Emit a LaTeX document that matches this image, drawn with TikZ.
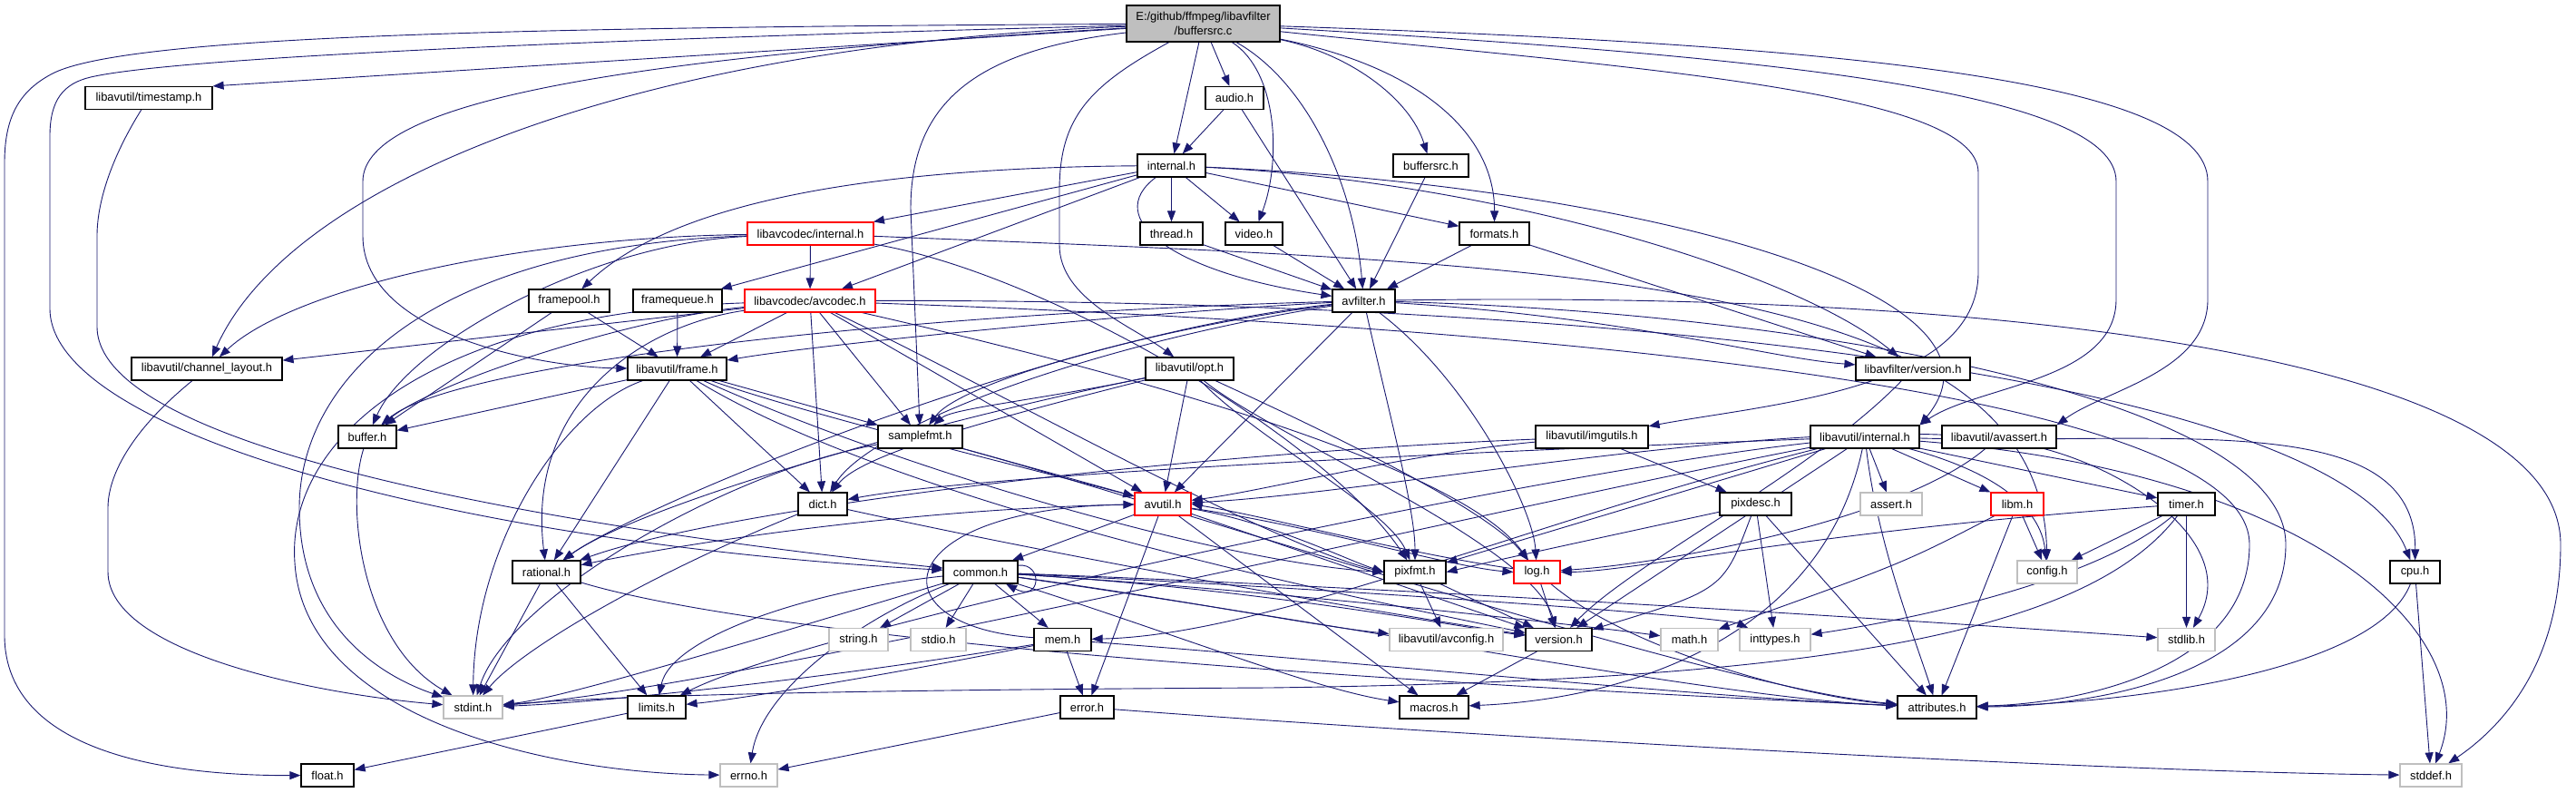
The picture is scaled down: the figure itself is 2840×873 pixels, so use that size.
\documentclass[tikz,border=0pt]{standalone}
\usepackage{fontspec}
\setmainfont{Liberation Sans}
\usetikzlibrary{arrows.meta}
\definecolor{ec}{HTML}{191970}
\definecolor{gb}{HTML}{BFBFBF}
\definecolor{tf}{HTML}{BFBFBF}
\pgfdeclarelayer{bgrect}
\pgfdeclarelayer{edges}
\pgfsetlayers{bgrect,edges,main}
\begin{document}
\begin{tikzpicture}[x=1pt,y=-1pt,
  nd/.style={draw=black, fill=white, line width=1.2pt, minimum height=25pt, inner sep=0pt, font=\fontsize{12.9}{15.5}\selectfont},
  sys/.style={nd, draw=gb},
  trunc/.style={nd, draw=red},
  e/.style={draw=ec, line width=0.9pt, line join=round, -{Triangle[length=12pt,width=9pt]}}]
\begin{pgfonlayer}{bgrect}
\fill[white] (0,0) rectangle (2840,873);
\end{pgfonlayer}
\useasboundingbox (0,0) rectangle (2840,873);
% nodes
\node[nd,fill=tf,minimum width=169pt,minimum height=40pt,align=center] (top) at (1326.5,26) {E:/github/ffmpeg/libavfilter\\/buffersrc.c};
\node[nd,minimum width=140pt] (timestamp) at (164,108) {libavutil/timestamp.h};
\node[nd,minimum width=64pt] (audio) at (1361,108) {audio.h};
\node[nd,minimum width=75pt] (internal) at (1291.5,182.5) {internal.h};
\node[nd,minimum width=83pt] (bsrch) at (1577.5,182.5) {buffersrc.h};
\node[trunc,minimum width=139pt] (lcint) at (893.5,257.5) {libavcodec/internal.h};
\node[nd,minimum width=69pt] (thread) at (1291.5,257.5) {thread.h};
\node[nd,minimum width=63pt] (video) at (1382.5,257.5) {video.h};
\node[nd,minimum width=77pt] (formats) at (1647.5,257.5) {formats.h};
\node[nd,minimum width=89pt] (fpool) at (627.5,331.5) {framepool.h};
\node[nd,minimum width=98pt] (fqueue) at (747,331.5) {framequeue.h};
\node[trunc,minimum width=144pt] (avcodec) at (893,331.5) {libavcodec/avcodec.h};
\node[nd,minimum width=69pt] (avfilter) at (1503.5,331.5) {avfilter.h};
\node[nd,minimum width=166pt] (chl) at (228,406.5) {libavutil/channel\_layout.h};
\node[nd,minimum width=109pt] (frame) at (746.5,406.5) {libavutil/frame.h};
\node[nd,minimum width=97pt] (opt) at (1311.5,406.5) {libavutil/opt.h};
\node[nd,minimum width=126pt] (lfver) at (2109,406.5) {libavfilter/version.h};
\node[nd,minimum width=64pt] (buffer) at (405,481.5) {buffer.h};
\node[nd,minimum width=93pt] (sfmt) at (1014.5,481.5) {samplefmt.h};
\node[nd,minimum width=124pt] (imgu) at (1755,481.5) {libavutil/imgutils.h};
\node[nd,minimum width=120pt] (luint) at (2056,481.5) {libavutil/internal.h};
\node[nd,minimum width=126pt] (avassert) at (2204,481.5) {libavutil/avassert.h};
\node[nd,minimum width=54pt] (dict) at (907,555.5) {dict.h};
\node[trunc,minimum width=62pt] (avutil) at (1282,555.5) {avutil.h};
\node[nd,minimum width=79pt] (pixdesc) at (1935.5,555.5) {pixdesc.h};
\node[sys,minimum width=68pt] (assert) at (2085,555.5) {assert.h};
\node[trunc,minimum width=58pt] (libm) at (2224,555.5) {libm.h};
\node[nd,minimum width=63pt] (timer) at (2410.5,555.5) {timer.h};
\node[nd,minimum width=75pt] (rational) at (602.5,630.5) {rational.h};
\node[nd,minimum width=82pt] (common) at (1081,630.5) {common.h};
\node[nd,minimum width=68pt] (pixfmt) at (1560,630.5) {pixfmt.h};
\node[trunc,minimum width=51pt] (log) at (1694.5,630.5) {log.h};
\node[sys,minimum width=66pt] (config) at (2257,630.5) {config.h};
\node[nd,minimum width=55pt] (cpu) at (2662.5,630.5) {cpu.h};
\node[sys,minimum width=65pt] (string) at (946.5,705) {string.h};
\node[sys,minimum width=61pt] (stdio) at (1034.5,705) {stdio.h};
\node[nd,minimum width=63pt] (mem) at (1171.5,705) {mem.h};
\node[sys,minimum width=125pt] (avconfig) at (1594.5,705) {libavutil/avconfig.h};
\node[nd,minimum width=73pt] (version) at (1718.5,705) {version.h};
\node[sys,minimum width=63pt] (math) at (1862.5,705) {math.h};
\node[sys,minimum width=78pt] (inttypes) at (1957,705) {inttypes.h};
\node[sys,minimum width=63pt] (stdlib) at (2410.5,705) {stdlib.h};
\node[sys,minimum width=65pt] (stdint) at (521.5,779.5) {stdint.h};
\node[nd,minimum width=64pt] (limits) at (724,779.5) {limits.h};
\node[nd,minimum width=59pt] (error) at (1198.5,779.5) {error.h};
\node[nd,minimum width=76pt] (macros) at (1581,779.5) {macros.h};
\node[nd,minimum width=87pt] (attr) at (2135.5,779.5) {attributes.h};
\node[nd,minimum width=58pt] (float) at (361,854.5) {float.h};
\node[sys,minimum width=63pt] (errno) at (825.5,854.5) {errno.h};
\node[sys,minimum width=68pt] (stddef) at (2680,854.5) {stddef.h};
\begin{pgfonlayer}{edges}
% buffersrc.c
\draw[e] (top) .. controls (600,30) and (150,38) .. (60,80) .. controls (20,100) and (5,130) .. (5,180) -- (5,700) .. controls (5,835) and (200,855) .. (float);
\draw[e] (top) .. controls (700,42) and (200,62) .. (100,85) .. controls (70,92) and (55,110) .. (55,150) -- (55,340) .. controls (55,480) and (520,600) .. (common);
\draw[e] (top) -- (timestamp.north east);
\draw[e] (top) .. controls (700,50) and (320,200) .. (chl);
\draw[e] (top) .. controls (700,62) and (400,110) .. (400,200) -- (400,260) .. controls (400,370) and (600,405) .. (frame);
\draw[e] (top) .. controls (1080,55) and (1004,110) .. (1004,230) -- (sfmt);
\draw[e] (top) .. controls (1200,95) and (1168,130) .. (1168,210) -- (1168,270) .. controls (1168,330) and (1250,360) .. (opt);
\draw[e] (top) -- (internal);
\draw[e] (top) -- (audio);
\draw[e] (top) .. controls (1410,80) and (1412,180) .. (video);
\draw[e] (top) .. controls (1440,90) and (1492,200) .. (avfilter);
\draw[e] (top) .. controls (1490,60) and (1555,110) .. (bsrch);
\draw[e] (top) .. controls (1570,75) and (1648,150) .. (formats);
\draw[e] (top) .. controls (1800,75) and (2181,100) .. (2181,190) -- (2181,300) .. controls (2181,430) and (1950,445) .. (imgu);
\draw[e] (top) .. controls (1950,62) and (2333,100) .. (2333,200) -- (2333,330) .. controls (2333,420) and (2180,425) .. (luint.north east);
\draw[e] (top) .. controls (2050,50) and (2434,90) .. (2434,200) -- (2434,330) .. controls (2434,410) and (2320,430) .. (avassert.north east);
% timestamp, audio
\draw[e] (timestamp) .. controls (125,170) and (107,220) .. (107,260) -- (107,360) .. controls (107,500) and (650,585) .. (common);
\draw[e] (audio) -- (internal);
\draw[e] (audio) -- (avfilter);
% internal.h
\draw[e] (internal) -- (lcint);
\draw[e] (internal) -- (fqueue);
\draw[e] (internal) -- (avcodec);
\draw[e] (internal) .. controls (950,185) and (740,225) .. (fpool);
\draw[e] (internal) -- (thread);
\draw[e] (internal) -- (video);
\draw[e] (internal) .. controls (1215,240) and (1290,300) .. (avfilter);
\draw[e] (internal) -- (formats);
\draw[e] (internal) .. controls (1650,200) and (1980,300) .. (lfver);
\draw[e] (internal) .. controls (1800,205) and (2240,320) .. (luint.north east);
\draw[e] (bsrch) -- (avfilter);
% libavcodec/internal.h
\draw[e] (lcint) -- (avcodec);
\draw[e] (lcint) .. controls (650,268) and (450,380) .. (buffer);
\draw[e] (lcint) .. controls (560,262) and (320,320) .. (chl);
\draw[e] (lcint) .. controls (470,272) and (330,420) .. (330,560) .. controls (330,690) and (420,745) .. (stdint);
\draw[e] (lcint) .. controls (1150,300) and (1460,480) .. (pixfmt);
\draw[e] (lcint) .. controls (1700,290) and (2250,300) .. (config);
\draw[e] (thread) -- (avfilter);
\draw[e] (video) -- (avfilter);
\draw[e] (formats) -- (avfilter);
\draw[e] (formats) -- (lfver);
\draw[e] (fpool) -- (buffer);
\draw[e] (fpool) -- (frame);
\draw[e] (fqueue) -- (frame);
% avcodec.h
\draw[e] (avcodec) .. controls (480,345) and (315,480) .. (325,620) .. controls (335,790) and (600,852) .. (errno);
\draw[e] (avcodec) -- (sfmt);
\draw[e] (avcodec) .. controls (1700,360) and (2480,430) .. (2480,600) .. controls (2480,735) and (2300,775) .. (attr);
\draw[e] (avcodec) -- (avutil);
\draw[e] (avcodec) .. controls (700,350) and (480,420) .. (buffer);
\draw[e] (avcodec) -- (chl);
\draw[e] (avcodec) -- (dict);
\draw[e] (avcodec) -- (frame);
\draw[e] (avcodec) .. controls (1150,390) and (1600,500) .. (log);
\draw[e] (avcodec) .. controls (1100,430) and (1400,600) .. (pixfmt.west);
\draw[e] (avcodec) .. controls (700,360) and (580,450) .. (rational);
\draw[e] (avcodec) .. controls (1800,330) and (2580,420) .. (cpu);
% avfilter.h
\draw[e] (avfilter) .. controls (2250,320) and (2823,400) .. (2823,600) .. controls (2823,730) and (2760,800) .. (stddef);
\draw[e] (avfilter) .. controls (2000,345) and (2520,440) .. (2520,600) .. controls (2520,740) and (2320,778) .. (attr);
\draw[e] (avfilter) -- (avutil);
\draw[e] (avfilter) .. controls (1000,345) and (500,400) .. (buffer);
\draw[e] (avfilter) .. controls (1200,380) and (960,470) .. (dict);
\draw[e] (avfilter) .. controls (1250,345) and (900,380) .. (frame);
\draw[e] (avfilter) .. controls (1620,420) and (1690,560) .. (log);
\draw[e] (avfilter) .. controls (1280,360) and (1060,420) .. (sfmt);
\draw[e] (avfilter) .. controls (1530,450) and (1560,560) .. (pixfmt);
\draw[e] (avfilter) .. controls (1150,370) and (700,560) .. (rational);
\draw[e] (avfilter) .. controls (1800,350) and (1950,395) .. (lfver);
% channel_layout, frame, opt
\draw[e] (chl) .. controls (150,470) and (119,520) .. (119,560) -- (119,630) .. controls (119,720) and (350,765) .. (stdint);
\draw[e] (frame) -- (buffer);
\draw[e] (frame) -- (sfmt);
\draw[e] (frame) -- (dict);
\draw[e] (frame) .. controls (900,460) and (1150,520) .. (avutil);
\draw[e] (frame) -- (rational);
\draw[e] (frame) .. controls (620,450) and (523,600) .. (stdint);
\draw[e] (frame) .. controls (1000,520) and (1350,620) .. (pixfmt.west);
\draw[e] (frame) .. controls (1000,560) and (1500,660) .. (version);
\draw[e] (opt) .. controls (1150,440) and (1050,450) .. (sfmt);
\draw[e] (opt) .. controls (1000,470) and (700,560) .. (rational);
\draw[e] (opt) .. controls (1100,460) and (950,500) .. (dict);
\draw[e] (opt) -- (avutil);
\draw[e] (opt) .. controls (1450,470) and (1640,560) .. (log);
\draw[e] (opt) .. controls (1380,480) and (1530,560) .. (pixfmt);
\draw[e] (opt) .. controls (1400,480) and (1690,600) .. (version);
\draw[e] (lfver) .. controls (2000,520) and (1800,620) .. (version);
\draw[e] (buffer) .. controls (380,560) and (400,710) .. (stdint);
% samplefmt, imgutils
\draw[e] (sfmt) .. controls (800,520) and (560,660) .. (stdint);
\draw[e] (sfmt) -- (avutil);
\draw[e] (sfmt) .. controls (1300,560) and (1900,760) .. (attr);
\draw[e] (imgu) .. controls (1550,500) and (1400,540) .. (avutil);
\draw[e] (imgu) -- (pixdesc);
\draw[e] (imgu) .. controls (1300,500) and (800,560) .. (rational);
% libavutil/internal.h
\draw[e] (luint) .. controls (1700,520) and (900,690) .. (limits);
\draw[e] (luint) .. controls (1650,560) and (800,760) .. (stdint);
\draw[e] (luint) .. controls (2550,520) and (2740,700) .. (stddef);
\draw[e] (luint) -- (assert);
\draw[e] (luint) .. controls (2200,520) and (2250,560) .. (config);
\draw[e] (luint) .. controls (2070,600) and (2110,700) .. (attr);
\draw[e] (luint) -- (timer);
\draw[e] (luint) .. controls (2400,490) and (2664,450) .. (cpu);
\draw[e] (luint) .. controls (1700,495) and (1100,520) .. (dict);
\draw[e] (luint) .. controls (2010,700) and (1800,770) .. (macros);
\draw[e] (luint) .. controls (1700,570) and (1400,700) .. (mem);
\draw[e] (luint) -- (pixfmt);
\draw[e] (luint) -- (version);
\draw[e] (luint) -- (libm);
% avassert
\draw[e] (avassert) .. controls (2350,520) and (2470,600) .. (stdlib);
\draw[e] (avassert) .. controls (1900,470) and (1500,545) .. (avutil);
\draw[e] (avassert) .. controls (2100,570) and (1850,620) .. (log);
% dict, avutil
\draw[e] (dict) .. controls (700,640) and (570,720) .. (stdint);
\draw[e] (dict) .. controls (1200,620) and (1550,680) .. (version);
\draw[e] (avutil) -- (common);
\draw[e] (avutil) -- (error);
\draw[e] (avutil) -- (macros);
\draw[e] (avutil) -- (version);
\draw[e] (avutil) .. controls (1450,580) and (1600,625) .. (log.west);
\draw[e] (avutil) .. controls (1400,575) and (1480,615) .. (pixfmt.west);
\draw[e] (avutil) .. controls (1000,560) and (750,600) .. (rational);
\draw[e] (log) .. controls (1550,610) and (1400,570) .. (avutil.east);
% pixdesc, libm, timer
\draw[e] (pixdesc) -- (inttypes);
\draw[e] (pixdesc) -- (attr);
\draw[e] (pixdesc) .. controls (1800,585) and (1660,615) .. (pixfmt.east);
\draw[e] (pixdesc) .. controls (1900,650) .. (version);
\draw[e] (libm) .. controls (2100,620) .. (math);
\draw[e] (libm) -- (config);
\draw[e] (libm) -- (attr);
\draw[e] (timer) -- (config);
\draw[e] (timer) -- (stdlib);
\draw[e] (timer) .. controls (2000,585) and (1800,630) .. (log.east);
\draw[e] (timer) .. controls (2300,700) and (2000,750) .. (1400,758) .. controls (1000,760) and (700,765) .. (stdint);
\draw[e] (timer) .. controls (2300,650) and (2060,690) .. (inttypes);
% rational
\draw[e] (rational) -- (stdint);
\draw[e] (rational) -- (limits);
\draw[e] (rational) .. controls (900,720) and (1800,765) .. (attr);
% common
\draw[e] (common) -- (string);
\draw[e] (common) -- (stdio);
\draw[e] (common) -- (mem);
\draw[e] (common) .. controls (950,680) and (840,760) .. (errno);
\draw[e] (common) .. controls (900,650) and (740,700) .. (limits);
\draw[e] (common) .. controls (850,700) and (620,770) .. (stdint);
\draw[e] (common) .. controls (1500,650) and (1900,680) .. (inttypes);
\draw[e] (common) .. controls (1400,650) and (1750,690) .. (math);
\draw[e] (common) .. controls (1600,650) and (2200,690) .. (stdlib);
\draw[e] (common) .. controls (1500,690) and (1900,770) .. (attr);
\draw[e] (common) .. controls (1300,700) and (1450,760) .. (macros);
\draw[e] (common) .. controls (1400,650) and (1600,690) .. (version);
\draw[e] (common) .. controls (1300,660) and (1450,690) .. (avconfig);
\draw[e] (common.10) .. controls (1150,620) and (1148,664) .. (common.-25);
% log, cpu, mem
\draw[e] (log) -- (version);
\draw[e] (log) .. controls (1800,720) and (2000,770) .. (attr);
\draw[e] (cpu) -- (stddef);
\draw[e] (cpu) .. controls (2620,740) and (2350,775) .. (attr);
\draw[e] (mem) .. controls (1000,740) and (820,770) .. (limits);
\draw[e] (mem) .. controls (900,750) and (650,775) .. (stdint);
\draw[e] (mem) .. controls (1500,730) and (1900,770) .. (attr);
\draw[e] (mem) -- (error);
\draw[e] (mem) .. controls (960,690) and (980,560) .. (avutil);
% lower
\draw[e] (pixfmt) -- (avconfig);
\draw[e] (pixfmt) -- (version);
\draw[e] (version) -- (macros);
\draw[e] (error) -- (errno);
\draw[e] (error) .. controls (1600,810) and (2300,850) .. (stddef);
\draw[e] (limits) -- (float);
\end{pgfonlayer}
\end{tikzpicture}
\end{document}
